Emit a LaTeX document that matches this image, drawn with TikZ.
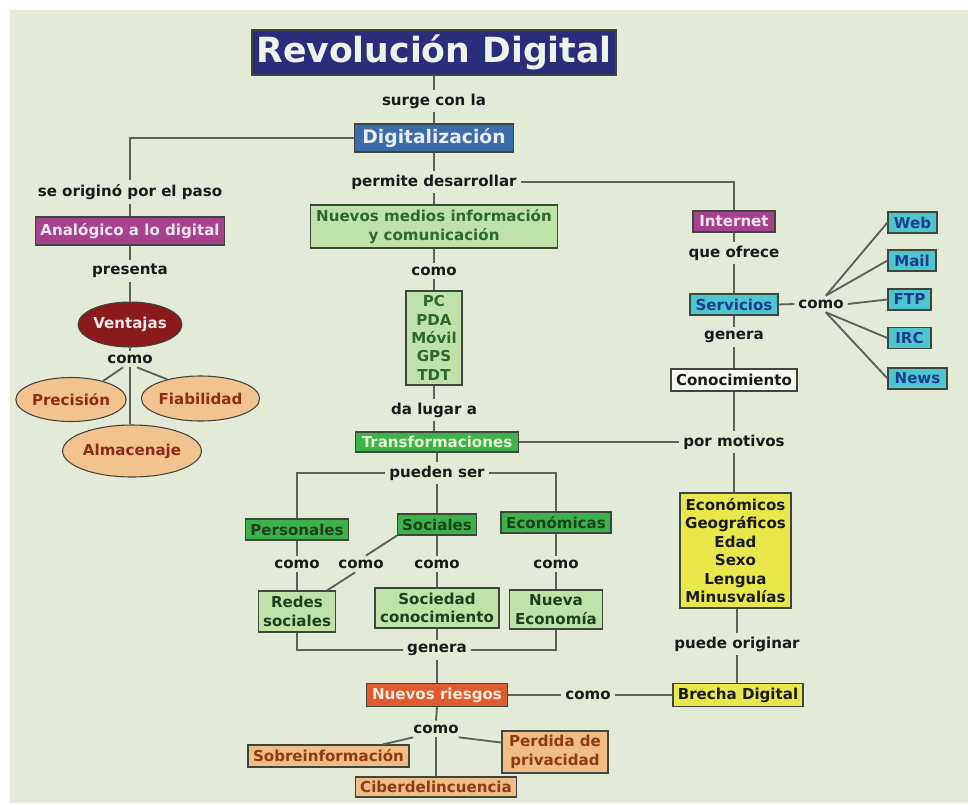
\documentclass[tikz,border=0pt]{standalone}
\usepackage{fontspec}
\setmainfont{DejaVu Sans}
\usetikzlibrary{shapes.geometric,calc}
\definecolor{bg}{HTML}{E3EBD8}
\definecolor{navy}{HTML}{2A2C7C}
\definecolor{navytxt}{HTML}{EEF2EA}
\definecolor{digblue}{HTML}{3C6BAC}
\definecolor{digtxt}{HTML}{E8EEF5}
\definecolor{purp}{HTML}{A6418E}
\definecolor{purptxt}{HTML}{F6E6F2}
\definecolor{vent}{HTML}{8A1A1C}
\definecolor{venttxt}{HTML}{F6E8E8}
\definecolor{tan}{HTML}{F2C38E}
\definecolor{tantxt}{HTML}{8E2B12}
\definecolor{lgreen}{HTML}{BFE2A9}
\definecolor{lgreentxt}{HTML}{2B6A2B}
\definecolor{dgreentxt}{HTML}{1E3F1E}
\definecolor{green}{HTML}{3CB34A}
\definecolor{greentxt}{HTML}{E8F4D0}
\definecolor{cyan}{HTML}{4DC6D0}
\definecolor{cyantxt}{HTML}{1C3D8E}
\definecolor{conoc}{HTML}{F7F7F2}
\definecolor{yel}{HTML}{E8E84C}
\definecolor{riesgo}{HTML}{E05A30}
\definecolor{riesgotxt}{HTML}{FBEBDD}
\definecolor{tanr}{HTML}{F1BC86}
\definecolor{tanrtxt}{HTML}{8E3A12}
\definecolor{linec}{HTML}{5A625A}
\definecolor{bord}{HTML}{3E463E}
\definecolor{lbltxt}{HTML}{1A1A1A}
\begin{document}
\begin{tikzpicture}[x=0.75pt,y=-0.75pt,
  base/.style={font=\fontsize{11.3}{13.8}\selectfont\bfseries, inner sep=0pt, align=center},
  box/.style={base, draw=bord, line width=0.8pt},
  wh/.style 2 args={minimum width={#1*0.75pt}, minimum height={#2*0.75pt}},
  lbl/.style={base, text=lbltxt, inner sep=2.8pt},
  oval/.style={box, ellipse},
  conn/.style={draw=linec, line width=1.4pt},
  lgbox/.style={box, fill=lgreen, text=lgreentxt},
  gbox/.style={box, fill=green, text=dgreentxt},
  cbox/.style={box, fill=cyan, text=cyantxt, wh={#1}{21}},
  tbox/.style={box, fill=tanr, text=tanrtxt},
  toval/.style={oval, fill=tan, text=tantxt}
]
\useasboundingbox (0,0) rectangle (968,804);
\fill[white] (0,0) rectangle (968,804);
\fill[bg] (10,10) rectangle (968,803);

% ---- top / center column
\node[box, wh={364}{45}, fill=navy, text=navytxt, font=\fontsize{26}{30}\selectfont\bfseries] (title) at (434,52.5) {Revolución Digital};
\node[lbl] (surge) at (434,101) {surge con la};
\node[box, wh={159}{28}, fill=digblue, text=digtxt, font=\fontsize{14}{16}\selectfont\bfseries] (dig) at (434,138) {Digitalización};
\node[lbl] (permite) at (434,182) {permite desarrollar};
\node[lgbox, wh={247}{43}] (medios) at (434,226.5) {Nuevos medios información\\y comunicación};
\node[lbl] (comoN) at (434,271) {como};
\node[lgbox, wh={56}{94}] (pc) at (434,338) {PC\\PDA\\Móvil\\GPS\\TDT};
\node[lbl] (dalugar) at (434,410) {da lugar a};
\node[box, wh={163}{20}, fill=green, text=greentxt] (trans) at (437,442) {Transformaciones};
\node[lbl] (pueden) at (437,473) {pueden ser};

\node[gbox, wh={103}{21}] (pers) at (297,529.5) {Personales};
\node[gbox, wh={79}{21}] (soc) at (437,524.5) {Sociales};
\node[gbox, wh={110}{21}] (econ) at (556,522.5) {Económicas};
\node[lbl] (como1) at (297,564) {como};
\node[lbl] (como2) at (361,564) {como};
\node[lbl] (como3) at (437,564) {como};
\node[lbl] (como4) at (556,564) {como};
\node[lgbox, wh={77}{41}, text=dgreentxt] (redes) at (297,611.5) {Redes\\sociales};
\node[lgbox, wh={124}{40}, text=dgreentxt] (socied) at (437,608) {Sociedad\\conocimiento};
\node[lgbox, wh={93}{39}, text=dgreentxt] (nueva) at (556,609.5) {Nueva\\Economía};
\node[lbl] (genera) at (437,650) {genera};
\node[box, wh={141}{23}, fill=riesgo, text=riesgotxt] (riesgos) at (437,695) {Nuevos riesgos};
\node[lbl] (comoB) at (436,729) {como};
\node[tbox, wh={161}{22}] (sobre) at (328.5,756) {Sobreinformación};
\node[tbox, wh={161}{20}] (ciber) at (436,787) {Ciberdelincuencia};
\node[tbox, wh={106}{42}] (perd) at (555,752) {Perdida de\\privacidad};
\node[lbl] (comoR) at (588,695) {como};
\node[box, wh={130}{23}, fill=yel, text=lbltxt] (brecha) at (738,695) {Brecha Digital};

% ---- left column
\node[lbl] (orig) at (130,192) {se originó por el paso};
\node[box, wh={189}{28}, fill=purp, text=purptxt] (analog) at (130,231) {Analógico a lo digital};
\node[lbl] (presenta) at (130,271) {presenta};
\node[oval, wh={96}{45}, fill=vent, text=venttxt] (vent) at (130,324.5) {Ventajas};
\node[lbl] (comoV) at (130,359) {como};
\node[toval, wh={100}{44}] (prec) at (71,399.5) {Precisión};
\node[toval, wh={105}{45}] (fiab) at (200.5,398.5) {Fiabilidad};
\node[toval, wh={120}{52}] (alm) at (132,451) {Almacenaje};

% ---- right column
\node[box, wh={82}{21}, fill=purp, text=purptxt] (inet) at (734,221.5) {Internet};
\node[lbl] (queof) at (734,253) {que ofrece};
\node[box, wh={88}{21}, fill=cyan, text=cyantxt] (serv) at (734,304.5) {Servicios};
\node[lbl] (genR) at (734,337) {genera};
\node[box, wh={126}{22}, fill=conoc, text=lbltxt] (conoc) at (734,380) {Conocimiento};
\node[lbl] (pormot) at (734,442) {por motivos};
\node[box, wh={111}{115}, fill=yel, text=lbltxt] (yel) at (735.5,550.5) {Económicos\\Geográficos\\Edad\\Sexo\\Lengua\\Minusvalías};
\node[lbl] (puede) at (737,644) {puede originar};
\node[lbl] (comoS) at (821,304) {como};
\node[cbox=49] (web) at (912.5,222.5) {Web};
\node[cbox=48] (mail) at (912,260.5) {Mail};
\node[cbox=43] (ftp) at (909.5,299.5) {FTP};
\node[cbox=43] (irc) at (909.5,338) {IRC};
\node[cbox=59] (news) at (917.5,378.5) {News};

% ---- connectors
\draw[conn] (title.south) -- (surge.north);
\draw[conn] (surge.south) -- (dig.north);
\draw[conn] (dig.west) -| (orig.north);
\draw[conn] (orig.south) -- (analog.north);
\draw[conn] (analog.south) -- (presenta.north);
\draw[conn] (presenta.south) -- (vent.north);
\draw[conn] (vent.south) -- (comoV.north);
\draw[conn] (comoV.230) -- (prec.30);
\draw[conn] (comoV.310) -- (fiab.150);
\draw[conn] (comoV.south) -- (comoV.south |- alm.north);

\draw[conn] (dig.south) -- (permite.north);
\draw[conn] (permite.east) -| (inet.north);
\draw[conn] (permite.south) -- (medios.north);
\draw[conn] (medios.south) -- (comoN.north);
\draw[conn] (comoN.south) -- (pc.north);
\draw[conn] (pc.south) -- (dalugar.north);
\draw[conn] (dalugar.south) -- (dalugar.south |- trans.north);
\draw[conn] (trans.south) -- (pueden.north);
\draw[conn] (pueden.west) -| (pers.north);
\draw[conn] (pueden.east) -| (econ.north);
\draw[conn] (pueden.south) -- (soc.north);
\draw[conn] (pers.south) -- (como1.north);
\draw[conn] (como1.south) -- (redes.north);
\draw[conn] (soc.south west) -- (como2.60);
\draw[conn] (como2.235) -- (redes.35);
\draw[conn] (soc.south) -- (como3.north);
\draw[conn] (como3.south) -- (socied.north);
\draw[conn] (econ.south) -- (como4.north);
\draw[conn] (como4.south) -- (nueva.north);
\draw[conn] (redes.south) |- (genera.west);
\draw[conn] (nueva.south) |- (genera.east);
\draw[conn] (socied.south) -- (genera.north);
\draw[conn] (genera.south) -- (riesgos.north);
\draw[conn] (riesgos.east) -- (comoR.west);
\draw[conn] (comoR.east) -- (brecha.west);
\draw[conn] (riesgos.south) -- (comoB.north);
\draw[conn] (comoB.200) -- (sobre.12);
\draw[conn] (comoB.340) -- (perd.170);
\draw[conn] (comoB.south) -- (ciber.north);

\draw[conn] (inet.south) -- (queof.north);
\draw[conn] (queof.south) -- (serv.north);
\draw[conn] (serv.south) -- (genR.north);
\draw[conn] (genR.south) -- (conoc.north);
\draw[conn] (conoc.south) -- (pormot.north);
\draw[conn] (pormot.south) -- (pormot.south |- yel.north);
\draw[conn] (trans.east) -- (trans.east -| pormot.west);
\draw[conn] (yel.south -| puede.north) -- (puede.north);
\draw[conn] (puede.south) -- (puede.south |- brecha.north);
\draw[conn] (serv.east) -- (comoS.west);
\draw[conn] (comoS.60) -- (web.west);
\draw[conn] (comoS.60) -- (mail.west);
\draw[conn] (comoS.east) -- (ftp.west);
\draw[conn] (comoS.300) -- (irc.west);
\draw[conn] (comoS.300) -- (news.west);
\end{tikzpicture}
\end{document}
